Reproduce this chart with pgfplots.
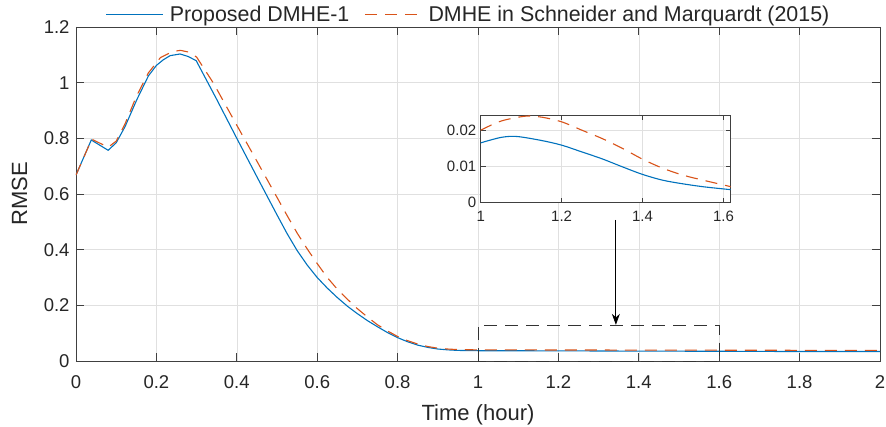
\documentclass[border=0pt]{standalone}
\usepackage{pgfplots}
\pgfplotsset{compat=1.18}
\usepackage{fontspec}
\setmainfont{Liberation Sans}
\usetikzlibrary{arrows.meta}
\definecolor{mblue}{HTML}{0072BD}
\definecolor{morange}{HTML}{D95319}
\definecolor{txt}{HTML}{262626}
\definecolor{axln}{HTML}{404040}
\definecolor{grd}{HTML}{E0E0E0}

\begin{document}
\begin{tikzpicture}
\begin{axis}[at={(0,0)}, anchor=south west,
  scale only axis, width=804bp, height=334bp,
  xmin=0, xmax=2, ymin=0, ymax=1.2,
  xtick={0,0.2,...,2}, ytick={0,0.2,...,1.2},
  /pgf/number format/assume math mode=true,
  grid=major, major grid style={grd, line width=0.6bp},
  axis line style={axln, line width=0.7bp},
  major tick style={axln, line width=0.7bp}, major tick length=8bp,
  tick align=inside,
  ticklabel style={font=\fontsize{18.5bp}{22bp}\selectfont, text=txt},
  xticklabel style={yshift=-11bp},
  yticklabel style={xshift=-3bp},
  label style={font=\fontsize{22bp}{26bp}\selectfont, text=txt},
  xlabel={Time (hour)},
  xlabel style={at={(axis description cs:0.5,0)}, anchor=base, yshift=-59bp},
  ylabel={RMSE},
  ylabel style={at={(axis description cs:-0.0703,0.5)}, anchor=center},
  legend columns=2,
  legend style={at={(0.487,1)}, anchor=south, yshift=0bp, draw=none, fill=none,
    font=\fontsize{21.4bp}{25bp}\selectfont, text=txt,
    nodes={inner xsep=0bp, inner ysep=2bp},
    /tikz/every odd column/.append style={column sep=6bp},
    /tikz/every even column/.append style={column sep=15bp}},
  legend image code/.code={\draw[#1] (0bp,0bp) -- (57bp,0bp);},
]
\addplot[mblue, line width=1.1bp] coordinates {
  (0,0.668) (0.038,0.794) (0.080,0.757) (0.100,0.784) (0.122,0.842)
  (0.151,0.938) (0.180,1.024) (0.200,1.062) (0.217,1.082) (0.234,1.097)
  (0.259,1.103) (0.279,1.094) (0.299,1.079) (0.350,0.940) (0.400,0.800)
  (0.450,0.662) (0.500,0.525) (0.525,0.458) (0.550,0.397) (0.575,0.345)
  (0.600,0.300) (0.625,0.262) (0.650,0.228) (0.675,0.197) (0.700,0.170)
  (0.725,0.145) (0.750,0.123) (0.775,0.102) (0.800,0.084) (0.825,0.069)
  (0.850,0.057) (0.875,0.049) (0.900,0.043) (0.925,0.040) (0.950,0.038)
  (1.000,0.037) (1.200,0.0365) (1.400,0.0355) (1.600,0.035) (1.800,0.034)
  (2.000,0.034)
};
\addlegendentry{Proposed DMHE-1}
\addplot[morange, line width=1.1bp, dash pattern=on 12bp off 8bp] coordinates {
  (0,0.668) (0.039,0.797) (0.080,0.768) (0.100,0.790) (0.122,0.852)
  (0.150,0.950) (0.180,1.035) (0.210,1.090) (0.240,1.112) (0.260,1.116)
  (0.280,1.110) (0.300,1.092) (0.342,0.998) (0.400,0.847) (0.450,0.718)
  (0.500,0.588) (0.525,0.523) (0.550,0.460) (0.575,0.403) (0.600,0.350)
  (0.625,0.300) (0.650,0.258) (0.675,0.222) (0.700,0.188) (0.725,0.158)
  (0.750,0.130) (0.775,0.108) (0.800,0.088) (0.825,0.073) (0.850,0.061)
  (0.875,0.052) (0.900,0.046) (0.925,0.043) (0.950,0.041) (1.000,0.040)
  (1.500,0.039) (2.000,0.038)
};
\addlegendentry{DMHE in Schneider and Marquardt (2015)}
\draw[black!80, line width=1bp, dash pattern=on 13bp off 8bp]
  (axis cs:1,0) rectangle (axis cs:1.6,0.128);
\draw[black, line width=0.8bp, -{Stealth[length=11bp,width=8bp]}]
  (axis cs:1.343,0.507) -- (axis cs:1.343,0.130);
\end{axis}

\begin{axis}[at={(404.7bp,158.3bp)}, anchor=south west,
  scale only axis, width=250bp, height=87.4bp,
  xmin=1, xmax=1.618, ymin=0, ymax=0.0241,
  xtick={1,1.2,1.4,1.6}, ytick={0,0.01,0.02},
  xticklabels={1,1.2,1.4,1.6}, yticklabels={0,0.01,0.02},
  scaled y ticks=false,
  axis background/.style={fill=white},
  grid=major, major grid style={grd, line width=0.6bp},
  axis line style={axln, line width=0.7bp},
  major tick style={axln, line width=0.7bp}, major tick length=5bp,
  tick align=inside,
  ticklabel style={font=\fontsize{15bp}{18bp}\selectfont, text=txt},
  xticklabel style={yshift=-5bp},
  yticklabel style={xshift=-1bp},
]
\addplot[mblue, line width=1.1bp, smooth] coordinates {
  (1.000,0.0165) (1.050,0.0180) (1.089,0.01826) (1.150,0.01716)
  (1.200,0.01587) (1.250,0.0140) (1.300,0.0121) (1.350,0.0099)
  (1.400,0.0078) (1.450,0.0062) (1.500,0.0052) (1.550,0.0044)
  (1.600,0.0038) (1.618,0.0036)
};
\addplot[morange, line width=1.1bp, smooth, dash pattern=on 12bp off 8bp] coordinates {
  (1.000,0.0200) (1.050,0.0225) (1.110,0.02385) (1.150,0.0236)
  (1.200,0.0223) (1.250,0.0200) (1.300,0.0177) (1.350,0.0150)
  (1.400,0.0120) (1.450,0.0095) (1.500,0.0076) (1.550,0.0062)
  (1.600,0.0049) (1.618,0.0044)
};
\end{axis}
\pgfresetboundingbox
\path[use as bounding box] (-76bp,-66bp) rectangle (810bp,361bp);
\end{tikzpicture}
\end{document}
